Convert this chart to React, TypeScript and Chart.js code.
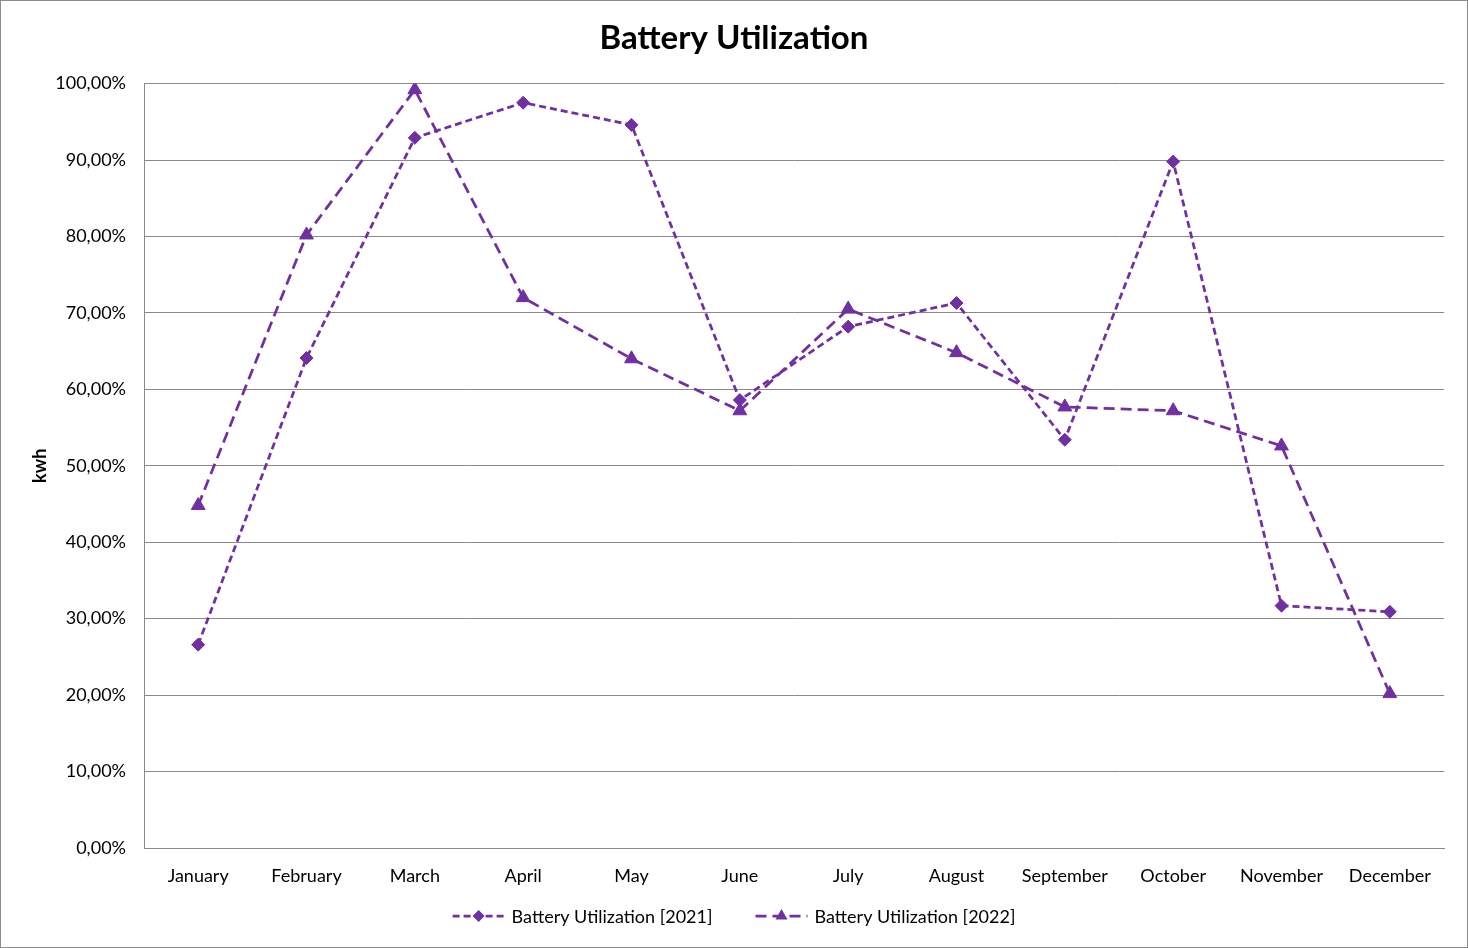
import React, { useEffect, useRef } from 'react';
import { Chart, registerables } from 'chart.js';

Chart.register(...registerables);

const months = ['January', 'February', 'March', 'April', 'May', 'June', 'July', 'August', 'September', 'October', 'November', 'December'];
const util2021 = [26.6, 64.1, 92.9, 97.5, 94.6, 58.6, 68.2, 71.3, 53.4, 89.8, 31.7, 30.9];
const util2022 = [44.8, 80.2, 99.2, 72.0, 64.0, 57.2, 70.5, 64.8, 57.7, 57.2, 52.6, 20.2];
const seriesLabels = ['Battery Utilization [2021]', 'Battery Utilization [2022]'];
const yMin = 0;
const yMax = 100;
const yStep = 10;

const PURPLE = '#7030A0';
const GRID = '#898989';
const FONT = 'Lato, "Open Sans", sans-serif';

const drawMarker = (ctx: CanvasRenderingContext2D, style: string, x: number, y: number, r: number) => {
  ctx.beginPath();
  if (style === 'triangle') {
    ctx.moveTo(x, y - r);
    ctx.lineTo(x + Math.sin((2 * Math.PI) / 3) * r, y - Math.cos((2 * Math.PI) / 3) * r);
    ctx.lineTo(x + Math.sin((4 * Math.PI) / 3) * r, y - Math.cos((4 * Math.PI) / 3) * r);
  } else {
    ctx.moveTo(x - r, y);
    ctx.lineTo(x, y - r);
    ctx.lineTo(x + r, y);
    ctx.lineTo(x, y + r);
  }
  ctx.closePath();
  ctx.fill();
};

const lineLegend = {
  id: 'lineLegend',
  afterDraw(chart: any) {
    const ctx: CanvasRenderingContext2D = chart.ctx;
    ctx.save();
    ctx.font = `18px ${FONT}`;
    const lineW = 52;
    const gapText = 7;
    const gapItems = 43;
    const items = chart.data.datasets.map((ds: any) => ({ ds, w: ctx.measureText(ds.label).width }));
    const total = items.reduce((s: number, it: any) => s + lineW + gapText + it.w, 0) + gapItems * (items.length - 1);
    let x = (chart.width - total) / 2;
    const y = 915;
    items.forEach((it: any) => {
      const ds = it.ds;
      ctx.strokeStyle = ds.borderColor;
      ctx.lineWidth = ds.borderWidth;
      ctx.setLineDash(ds.borderDash);
      ctx.beginPath();
      ctx.moveTo(x, y);
      ctx.lineTo(x + lineW, y);
      ctx.stroke();
      ctx.setLineDash([]);
      ctx.fillStyle = ds.pointBackgroundColor;
      drawMarker(ctx, ds.pointStyle, x + lineW / 2, y, ds.pointStyle === 'triangle' ? 7 : 6);
      ctx.fillStyle = '#000';
      ctx.textBaseline = 'middle';
      ctx.textAlign = 'left';
      ctx.fillText(ds.label, x + lineW + gapText, y + 1);
      x += lineW + gapText + it.w + gapItems;
    });
    ctx.restore();
  },
};

export default function App() {
  const ref = useRef<HTMLCanvasElement>(null);

  useEffect(() => {
    document.body.style.margin = '0';
    if (!ref.current) return;
    const chart = new Chart(ref.current, {
      type: 'line',
      data: {
        labels: months,
        datasets: [
          {
            label: seriesLabels[0],
            data: util2021,
            borderColor: PURPLE,
            backgroundColor: PURPLE,
            pointBackgroundColor: PURPLE,
            pointBorderColor: PURPLE,
            borderWidth: 2.75,
            borderDash: [7, 4],
            pointStyle: 'rectRot',
            pointRadius: 6.5,
            pointBorderWidth: 1,
            tension: 0,
          },
          {
            label: seriesLabels[1],
            data: util2022,
            borderColor: PURPLE,
            backgroundColor: PURPLE,
            pointBackgroundColor: PURPLE,
            pointBorderColor: PURPLE,
            borderWidth: 2.75,
            borderDash: [11, 6],
            pointStyle: 'triangle',
            pointRadius: 8,
            pointBorderWidth: 1,
            tension: 0,
          },
        ],
      },
      options: {
        responsive: false,
        animation: false,
        layout: { padding: { left: 23, right: 23, top: 0, bottom: 49 } },
        plugins: {
          legend: { display: false },
          tooltip: { enabled: false },
          title: {
            display: true,
            text: 'Battery Utilization',
            color: '#000',
            font: { family: FONT, size: 33, weight: 'bold' },
            padding: { top: 18, bottom: 25 },
          },
        },
        scales: {
          x: {
            offset: true,
            grid: { display: false, drawTicks: false },
            border: { display: true, color: GRID, width: 1 },
            ticks: {
              color: '#000',
              font: { family: FONT, size: 18 },
              padding: 17,
              maxRotation: 0,
              autoSkip: false,
            },
            afterFit: (scale: any) => {
              scale.height = 50;
            },
          },
          y: {
            min: yMin,
            max: yMax,
            grid: { color: GRID, lineWidth: 1, drawTicks: false },
            border: { display: true, color: GRID, width: 1 },
            ticks: {
              stepSize: yStep,
              color: '#000',
              font: { family: FONT, size: 18 },
              padding: 18,
              callback: (v: any) => Number(v).toFixed(2).replace('.', ',') + '%',
            },
            title: {
              display: true,
              text: 'kwh',
              color: '#000',
              font: { family: FONT, size: 18, weight: 'bold' },
              padding: { top: 5, bottom: 0 },
            },
            afterFit: (scale: any) => {
              scale.width = 120;
            },
          },
        },
      },
      plugins: [lineLegend],
    });
    return () => chart.destroy();
  }, []);

  return (
    <div
      style={{
        width: 1468,
        height: 948,
        boxSizing: 'border-box',
        border: '1px solid #8c8c8c',
        background: '#fff',
        overflow: 'hidden',
      }}
    >
      <canvas ref={ref} width={1466} height={946} style={{ display: 'block' }} />
    </div>
  );
}
